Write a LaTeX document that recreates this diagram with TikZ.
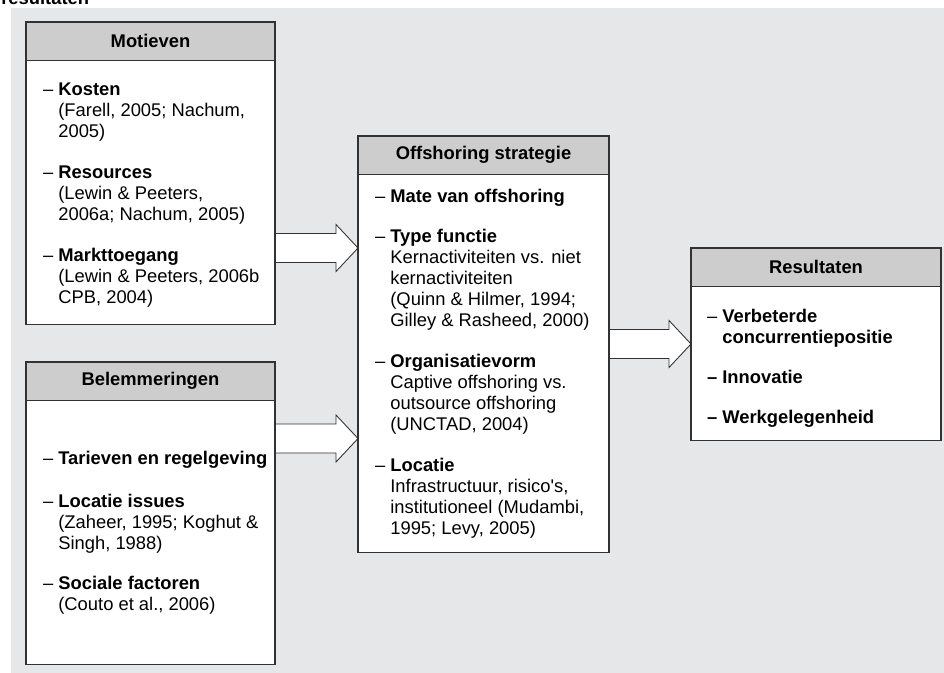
\documentclass[tikz,border=0pt]{standalone}
\usepackage{fontspec}
\setmainfont{Liberation Sans}
\usepackage{xcolor}
\usetikzlibrary{positioning,calc,backgrounds}
\definecolor{panelgray}{RGB}{230,231,232}
\definecolor{hdrgray}{RGB}{205,205,205}
\definecolor{linegray}{RGB}{50,50,50}
\newcommand{\figfont}{\fontsize{10.45pt}{11.95pt}\selectfont}
\tikzset{
  hdr/.style={rectangle, draw=linegray, fill=hdrgray, line width=0.6pt, outer sep=0pt,
    font=\figfont\bfseries, minimum height=7.7mm, inner sep=0pt},
  bodybox/.style={rectangle, draw=linegray, fill=white, line width=0.6pt,
    outer sep=0pt, inner sep=0pt},
  itemtxt/.style={align=left, anchor=north west, inner sep=0pt},
  fatarrow/.style={draw=linegray, fill=white, line width=0.5pt, line join=miter},
}
\newcommand{\itm}[1]{\llap{\textendash\ }\textbf{#1}}
\newcommand{\itmb}[1]{\textbf{\llap{\textendash\ }#1}}
% block arrow: #1 start of shaft, #2 tip (same height)
\newcommand{\blockarrow}[2]{%
  \draw[fatarrow] ($(#1)+(0,0.29)$) -- ($(#2)+(-0.44,0.29)$) -- ($(#2)+(-0.44,0.47)$)
    -- (#2) -- ($(#2)+(-0.44,-0.47)$) -- ($(#2)+(-0.44,-0.29)$) -- ($(#1)+(0,-0.29)$);}

\begin{document}
\begin{tikzpicture}[every node/.style={font=\figfont}]
\useasboundingbox (0,0) rectangle (18.88,-13.46);
% ---- clipped caption line ----
\node[anchor=base west, inner sep=0pt, font=\figfont\bfseries] (cap) at (0.02,-0.10) {resultaten};
% ---- Motieven ----
\node[hdr, minimum width=49.8mm, anchor=north west] (mot) at (0.52,-0.44) {Motieven};
\node[bodybox, minimum width=49.8mm, minimum height=52.8mm, anchor=north] (motbox) at (mot.south) {};
\node[itemtxt] (motlist) at (1.16,-1.654) {\itm{Kosten}\\(Farell, 2005; Nachum,\\2005)\\[11.3pt]
  \itm{Resources}\\(Lewin \& Peeters,\\2006a; Nachum, 2005)\\[11.3pt]
  \itm{Markttoegang}\\(Lewin \& Peeters, 2006b\\CPB, 2004)};
% ---- Belemmeringen ----
\node[hdr, minimum width=49.8mm, anchor=north west] (bel) at (0.52,-7.24) {Belemmeringen};
\node[bodybox, minimum width=49.8mm, minimum height=52.8mm, anchor=north] (belbox) at (bel.south) {};
\node[itemtxt] (bellist) at (1.16,-9.008) {\itm{Tarieven en regelgeving}\\[13pt]
  \itm{Locatie issues}\\(Zaheer, 1995; Koghut \&\\Singh, 1988)\\[10.7pt]
  \itm{Sociale factoren}\\(Couto et al., 2006)};
% ---- Offshoring strategie ----
\node[hdr, minimum width=50.2mm, anchor=north west] (ofs) at (7.16,-2.72) {Offshoring strategie};
\node[bodybox, minimum width=50.2mm, minimum height=75.6mm, anchor=north] (ofsbox) at (ofs.south) {};
\node[itemtxt] (ofslist) at (7.80,-3.768) {\itm{Mate van offshoring}\\[11.3pt]
  \itm{Type functie}\\Kernactiviteiten vs. niet\\kernactiviteiten\\(Quinn \& Hilmer, 1994;\\Gilley \& Rasheed, 2000)\\[11.3pt]
  \itm{Organisatievorm}\\Captive offshoring vs.\\outsource offshoring\\(UNCTAD, 2004)\\[11.3pt]
  \itm{Locatie}\\Infrastructuur, risico\textquotesingle s,\\institutioneel (Mudambi,\\1995; Levy, 2005)};
% ---- Resultaten ----
\node[hdr, minimum width=50mm, anchor=north west] (res) at (13.82,-4.96) {Resultaten};
\node[bodybox, minimum width=50mm, minimum height=30.8mm, anchor=north] (resbox) at (res.south) {};
\node[itemtxt] (reslist) at (14.44,-6.168) {\itm{Verbeterde}\\\textbf{concurrentiepositie}\\[11.3pt]
  \itmb{Innovatie}\\[10.7pt]
  \itmb{Werkgelegenheid}};
% ---- arrow heights ----
\coordinate (y1) at (0,-4.96);
\coordinate (y2) at (0,-8.77);
\coordinate (y3) at (0,-6.88);
% ---- panel and block arrows behind the boxes ----
\begin{scope}[on background layer]
  \fill[panelgray] (0.22,-0.16) rectangle (18.88,-13.46);
  \blockarrow{motbox.east |- y1}{ofsbox.west |- y1}
  \blockarrow{belbox.east |- y2}{ofsbox.west |- y2}
  \blockarrow{ofsbox.east |- y3}{resbox.west |- y3}
\end{scope}
\end{tikzpicture}
\end{document}
